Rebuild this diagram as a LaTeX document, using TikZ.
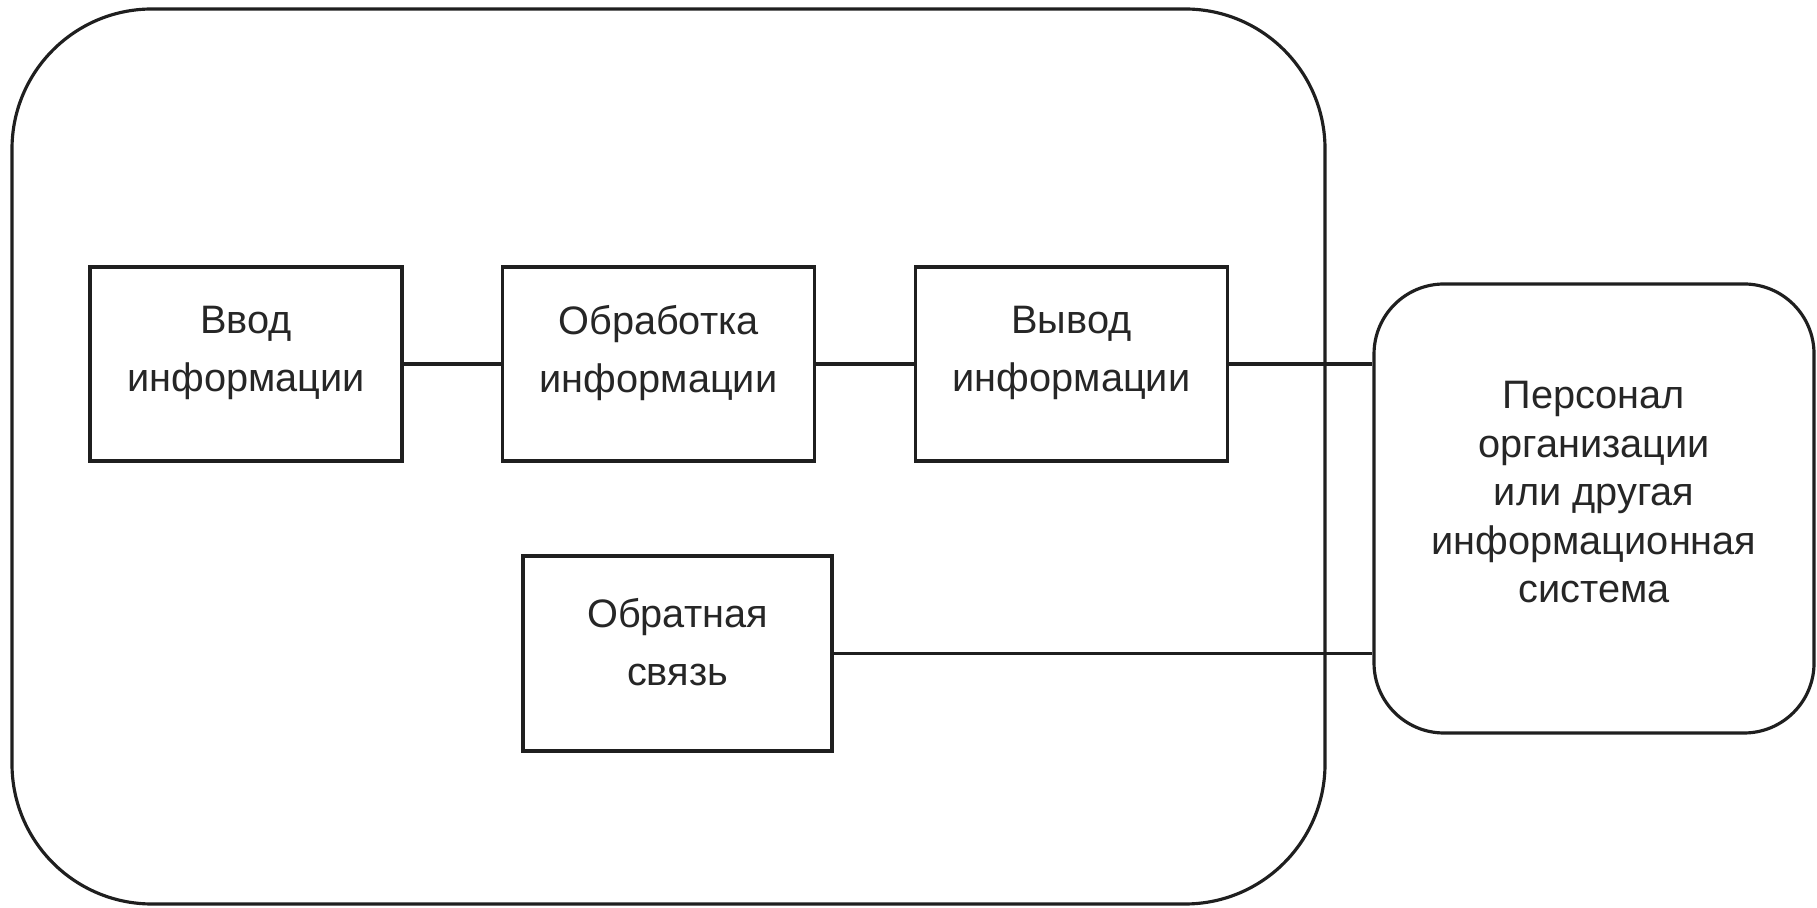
\documentclass[tikz,border=0pt]{standalone}
\usepackage{fontspec}
\setmainfont{Liberation Sans}
\begin{document}
\begin{tikzpicture}[
  edge/.style={draw=black!88, line width=0.9pt},
  stage/.style={edge, rectangle, minimum width=3.12cm, minimum height=1.94cm, inner sep=0pt},
  caption/.style={text=black!85, align=center, font=\fontsize{11.3}{16.5}\selectfont, inner sep=0pt},
  link/.style={draw=black!88, line width=1.1pt}
]
\useasboundingbox (0,0) rectangle (18.17,9.07);

% enclosing information system
\node[edge, rounded corners=1.4cm, minimum width=13.13cm, minimum height=8.95cm, inner sep=0pt]
  (sys) at (6.685,4.505) {};

% processing stages
\node[stage] (inp)  at (2.46,5.43)   {};
\node[stage] (proc) at (6.585,5.43)  {};
\node[stage] (outp) at (10.715,5.43) {};
\node[stage, minimum width=3.09cm, minimum height=1.95cm] (fb) at (6.775,2.535) {};

\node[caption] (inp-t)  at ([yshift=0.11cm]inp.center)  {Ввод\\информации};
\node[caption] (proc-t) at ([yshift=0.11cm]proc.center) {Обработка\\информации};
\node[caption] (outp-t) at ([yshift=0.11cm]outp.center) {Вывод\\информации};
\node[caption] (fb-t)   at ([yshift=0.11cm]fb.center)   {Обратная\\связь};

% external party
\node[edge, rounded corners=0.7cm, minimum width=4.40cm, minimum height=4.49cm, inner sep=0pt]
  (pers) at (15.94,3.985) {};
\node[caption, font=\fontsize{11.3}{13.8}\selectfont] (pers-t) at ([yshift=0.16cm]pers.center)
  {Персонал\\организации\\или другая\\информационная\\система};

% connections
\draw[link] (inp.east) -- (proc.west);
\draw[link] (proc.east) -- (outp.west);
\draw[link] (outp.east) -- (outp.east -| pers.west);
\draw[edge] (fb.east) -- (fb.east -| pers.west);
\end{tikzpicture}
\end{document}
